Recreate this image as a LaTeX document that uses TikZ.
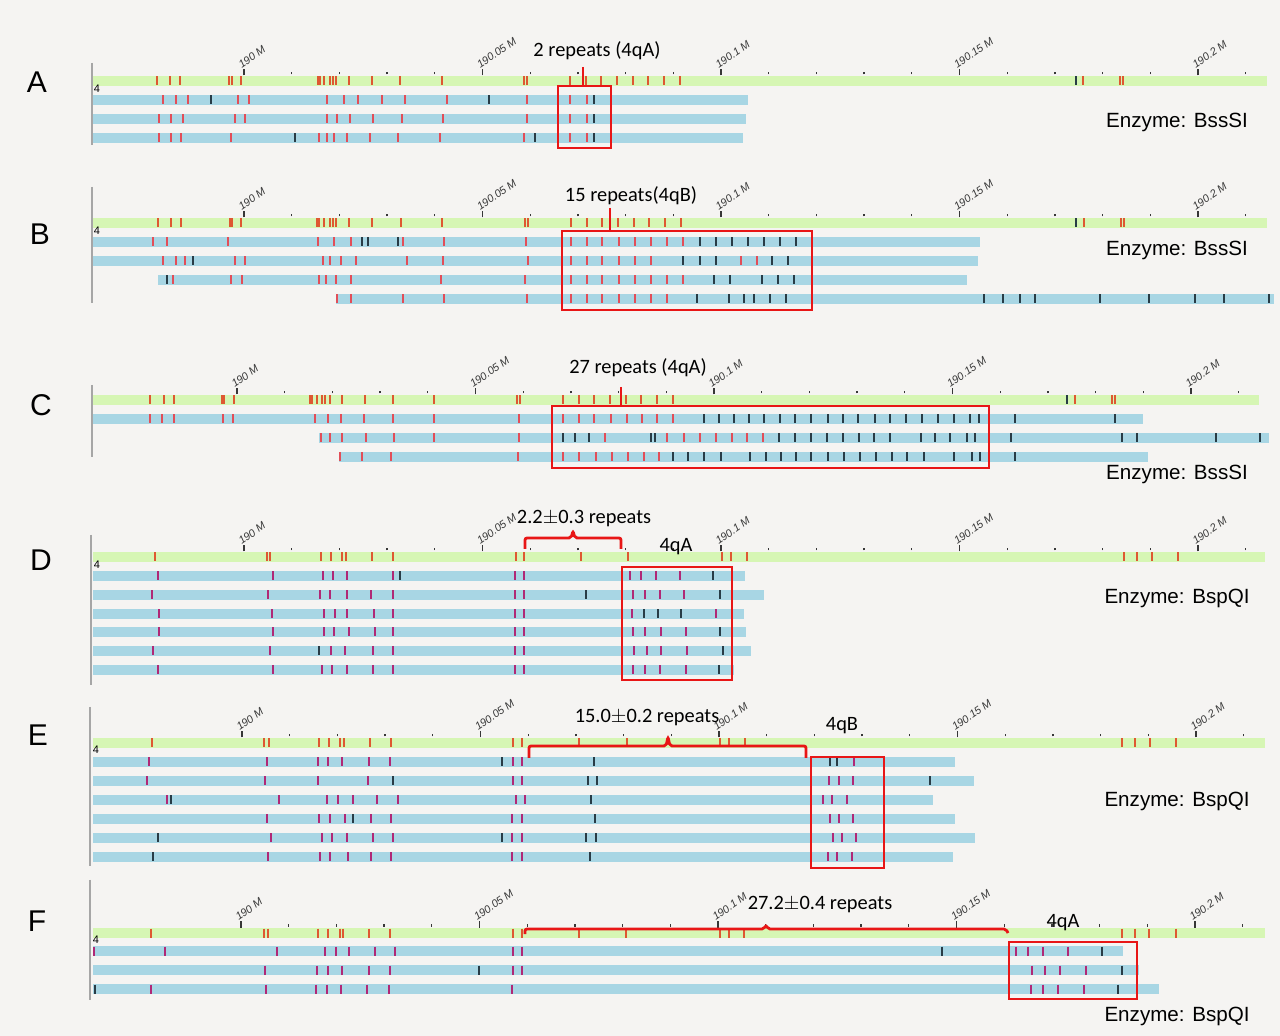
\documentclass[tikz,border=0pt]{standalone}
\usepackage{fontspec}
\setmainfont{Liberation Sans}
\newfontfamily\calibri{Carlito}
\usepackage{tikz}

\definecolor{bgcol}{RGB}{245,244,242}
\definecolor{refgreen}{RGB}{214,246,180}
\definecolor{molblue}{RGB}{168,214,228}
\definecolor{refred}{RGB}{222,88,50}
\definecolor{bssred}{RGB}{226,78,88}
\definecolor{bspmag}{RGB}{176,40,118}
\definecolor{darksitecol}{RGB}{40,60,70}
\definecolor{boxred}{RGB}{232,22,22}
\definecolor{rulergray}{RGB}{55,55,55}

% reference map: top y, end x, site list
\newcommand\refmap[3]{%
  \fill[refbar] (93,#1) rectangle (#2,#1+10);
  \foreach \s in {#3} \draw[refsite] (\s,#1+0.5) -- (\s,#1+9.5);
}
% molecule: centre y, start x, end x, labelled sites, other sites
\newcommand\mol[5]{%
  \fill[molbar] (#2,#1-5) rectangle (#3,#1+5);
  \foreach \s in {#4} \draw[site] (\s,#1-4.5) -- (\s,#1+4.5);
  \foreach \s in {#5} \draw[darksite] (\s,#1-4.5) -- (\s,#1+4.5);
}
% ruler: shift of the 190 M tick, top y of the reference map
\newcommand\ruler[2]{%
  \foreach \k in {0,...,21} \draw[rulertick] ({244+#1+47.7*\k},#2-1.5) -- ++(0,-2.5);
  \foreach \k/\t in {0/190 M,1/190.05 M,2/190.1 M,3/190.15 M,4/190.2 M}
    \draw[rulertick] ({244+#1+238.5*\k},#2-0.5) -- ++(0,-6.5) node[mblabel] (mb\k) {\t};
}

\begin{document}
\begin{tikzpicture}[x=0.5pt,y=-0.5pt]
  \tikzstyle{refbar}=[fill=refgreen]
  \tikzstyle{molbar}=[fill=molblue]
  \tikzstyle{refsite}=[draw=refred,line width=0.95pt]
  \tikzstyle{site}=[draw=sitecol,line width=0.95pt]
  \tikzstyle{darksite}=[draw=darksitecol,line width=0.95pt]
  \tikzstyle{rulertick}=[draw=rulergray,line width=0.65pt]
  \tikzstyle{mblabel}=[font=\itshape\fontsize{5.4}{5.4}\selectfont,text=rulergray,rotate=35,anchor=south west,inner sep=0.3pt,xshift=-1.5pt]
  \tikzstyle{axis}=[draw=gray!70,line width=0.7pt]
  \tikzstyle{chr}=[font=\fontsize{5.5}{5.5}\selectfont,inner sep=0pt]
  \tikzstyle{panel}=[font=\fontsize{15}{15}\selectfont,inner sep=0pt]
  \tikzstyle{enz}=[font=\fontsize{10.3}{10.3}\selectfont,inner sep=0pt]
  \tikzstyle{rep}=[font=\calibri\fontsize{10.2}{10.2}\selectfont,inner sep=0pt]
  \tikzstyle{hit}=[draw=boxred,line width=1.4pt]
  \tikzstyle{brace}=[draw=boxred,line width=1.4pt,rounded corners=1pt]

  \fill[bgcol] (0,0) rectangle (1280,1036);
  \useasboundingbox (0,0) rectangle (1280,1036);

  % A
  \colorlet{sitecol}{bssred}
  \node[panel] (pA) at (37,82) {A};
  \draw[axis] (92,63) -- (92,145);
  \ruler{0}{76}
  \refmap{76}{1267}{157,170,180,229,232,241,318,320,324,330,333,336,349,372,400,442,524,527,570,586,601,617,633,648,664,680,1083,1120,1123}
  \draw[darksite] (1076,76.5) -- (1076,85.5);
  \node[chr] (cA) at (97,89) {4};
  \mol{100}{93}{748}{163,176,188,238,249,327,344,358,382,405,447,527,570,587}{211,489,594}
  \mol{119}{93}{746}{159,171,183,235,245,327,337,350,373,402,443,527,570,587}{594}
  \mol{138}{93}{743}{159,171,181,231,319,327,334,347,370,398,440,524,570,587}{295,535,594}
  \draw[hit] (558,86) rectangle (611,148);
  \draw[hit] (583,67) -- (583,86);
  \node[rep] (rA) at (597,51) {2 repeats (4qA)};
  \node[enz] (eA) at (1177,122) {Enzyme: BssSI};

  % B
  \node[panel] (pB) at (40,234) {B};
  \draw[axis] (92,187) -- (92,303);
  \ruler{0}{218}
  \refmap{218}{1267}{158,171,181,230,232,241,317,319,324,330,333,336,349,372,401,442,525,528,571,587,602,618,634,649,665,681,1084,1121,1124}
  \draw[darksite] (1076,218.5) -- (1076,227.5);
  \node[chr] (cB) at (97,231) {4};
  \mol{242}{93}{980}{153,167,228,318,334,351,403,444,526,571,587,602,619,635,651,667,683}{362,368,398,700,716,732,748,764,780,796}
  \mol{261}{93}{978}{163,176,185,235,245,323,330,341,356,407,443,528,571,587,602,619,635,651,741,757}{193,683,700,716,772,788}
  \mol{280}{158}{967}{173,231,242,319,326,336,351,441,525,571,587,602,619,635,651,667,683}{167,714,730,762,778,794}
  \mol{299}{336}{1274}{337,351,403,444,527,571,587,602,619,635,651,667}{697,729,744,754,770,786,984,1003,1020,1035,1100,1149,1195,1224,1269}
  \draw[hit] (562,231) rectangle (812,310);
  \draw[hit] (610,208) -- (610,231);
  \node[rep] (rB) at (631,196) {15 repeats(4qB)};
  \node[enz] (eB) at (1177,250) {Enzyme: BssSI};

  % C
  \node[panel] (pC) at (41,405) {C};
  \draw[axis] (92,385) -- (92,457);
  \ruler{-7}{395}
  \refmap{395}{1259}{150,164,174,222,224,234,310,312,317,322,325,330,342,365,393,434,517,520,563,579,594,610,626,641,657,673,1075,1112,1115}
  \draw[darksite] (1067,395.5) -- (1067,404.5);
  \mol{419}{93}{1143}{150,162,174,223,233,315,328,341,364,393,434,519,563,579,594,611,627,642,657,673}{704,719,734,749,764,780,795,811,828,843,858,875,890,906,922,938,954,970,979,1015,1115}
  \mol{438}{319}{1269}{321,330,342,366,394,434,519,605,667,684,700,716,732,747,763}{563,575,589,651,655,779,795,811,827,843,859,874,890,921,935,950,967,975,1011,1122,1137,1216,1260}
  \mol{457}{339}{1148}{340,362,391,518,563,579,596,612,628,644,659}{673,688,704,721,750,766,781,796,811,828,844,860,876,892,907,924,954,972,980,1015}
  \draw[hit] (552,406) rectangle (989,468);
  \draw[hit] (621,387) -- (621,406);
  \node[rep] (rC) at (638,368) {27 repeats (4qA)};
  \node[enz] (eC) at (1177,474) {Enzyme: BssSI};

  % D
  \colorlet{sitecol}{bspmag}
  \node[panel] (pD) at (41,560) {D};
  \draw[axis] (91,535) -- (91,685);
  \ruler{0}{552}
  \refmap{552}{1265}{155,267,270,321,331,342,346,372,393,516,524,581,628,722,731,747,1124,1137,1152,1178}
  \node[chr] (cD) at (97,565) {4};
  \mol{576}{93}{745}{158,273,323,333,347,393,515,524,630,641,656,680}{400,713}
  \mol{595}{93}{764}{152,268,320,330,347,371,393,515,524,633,645,660,684}{586,720}
  \mol{614}{93}{744}{159,272,324,335,347,374,393,515,524,632,716}{644,658,681}
  \mol{632}{93}{746}{159,273,324,334,349,375,393,515,524,633,645,661,686}{720}
  \mol{651}{93}{751}{153,270,331,345,373,393,515,524,634,647,661,687}{319,723}
  \mol{670}{93}{734}{158,273,322,332,347,373,393,515,524,633,645,660,686}{719}
  \draw[hit] (622,567) rectangle (732,680);
  \draw[brace] (525,549) -- (525,538) -- (571,538) -- (573,531) -- (575,538) -- (621,538) -- (621,549);
  \node[rep] (rD) at (584,519) {2.2$\pm$0.3 repeats};
  \node[rep] (qD) at (676,547) {4qA};
  \node[enz] (eD) at (1177,598) {Enzyme: BspQI};

  % E
  \node[panel] (pE) at (38,735) {E};
  \draw[axis] (90,707) -- (90,866);
  \ruler{-2}{738}
  \refmap{738}{1265}{152,264,269,319,329,340,344,370,391,513,522,579,627,720,729,745,1122,1135,1150,1176}
  \node[chr] (cE) at (96,750) {4};
  \mol{762}{93}{955}{149,267,318,328,342,369,390,513,522,854}{502,594,830,837}
  \mol{781}{93}{974}{147,265,318,368,513,522,829,839,853}{393,588,597,930}
  \mol{800}{93}{933}{167,279,327,338,353,377,398,516,525,823,832,847}{171,591}
  \mol{819}{93}{955}{267,319,330,345,371,391,512,522,830,839,853}{353,595}
  \mol{838}{93}{975}{271,322,332,347,373,393,512,522,833,842,856}{158,502,586,596}
  \mol{857}{93}{953}{268,320,330,348,371,391,512,522,828,837,852}{153,590}
  \draw[hit] (811,757) rectangle (884,868);
  \draw[brace] (529,758) -- (529,746) -- (666,746) -- (668,737) -- (670,746) -- (806,746) -- (806,758);
  \node[rep] (rE) at (647,718) {15.0$\pm$0.2 repeats};
  \node[rep] (qE) at (842,726) {4qB};
  \node[enz] (eE) at (1177,801) {Enzyme: BspQI};

  % F
  \node[panel] (pF) at (37,921) {F};
  \draw[axis] (90,880) -- (90,1000);
  \ruler{-3}{928}
  \refmap{928}{1265}{151,264,268,318,328,340,343,369,390,513,522,579,626,720,729,744,1122,1135,1149,1176}
  \node[chr] (cF) at (96,940) {4};
  \mol{951}{93}{1123}{94,165,277,325,336,349,375,395,513,522,1016,1028,1043,1068}{942,1102}
  \mol{970}{93}{1139}{265,317,328,342,369,390,513,522,1032,1045,1060,1086}{479,1122}
  \mol{989}{93}{1159}{151,266,316,327,341,367,389,512,1031,1043,1058,1084}{95,1118}
  \draw[hit] (1009,942) rectangle (1137,999);
  \draw[brace] (525,934) -- (525,929) -- (764,929) -- (766,925) -- (768,929) -- (1006,929) -- (1008,933);
  \node[rep] (rF) at (820,905) {27.2$\pm$0.4 repeats};
  \node[rep] (qF) at (1063,923) {4qA};
  \node[enz] (eF) at (1177,1016) {Enzyme: BspQI};
\end{tikzpicture}
\end{document}
